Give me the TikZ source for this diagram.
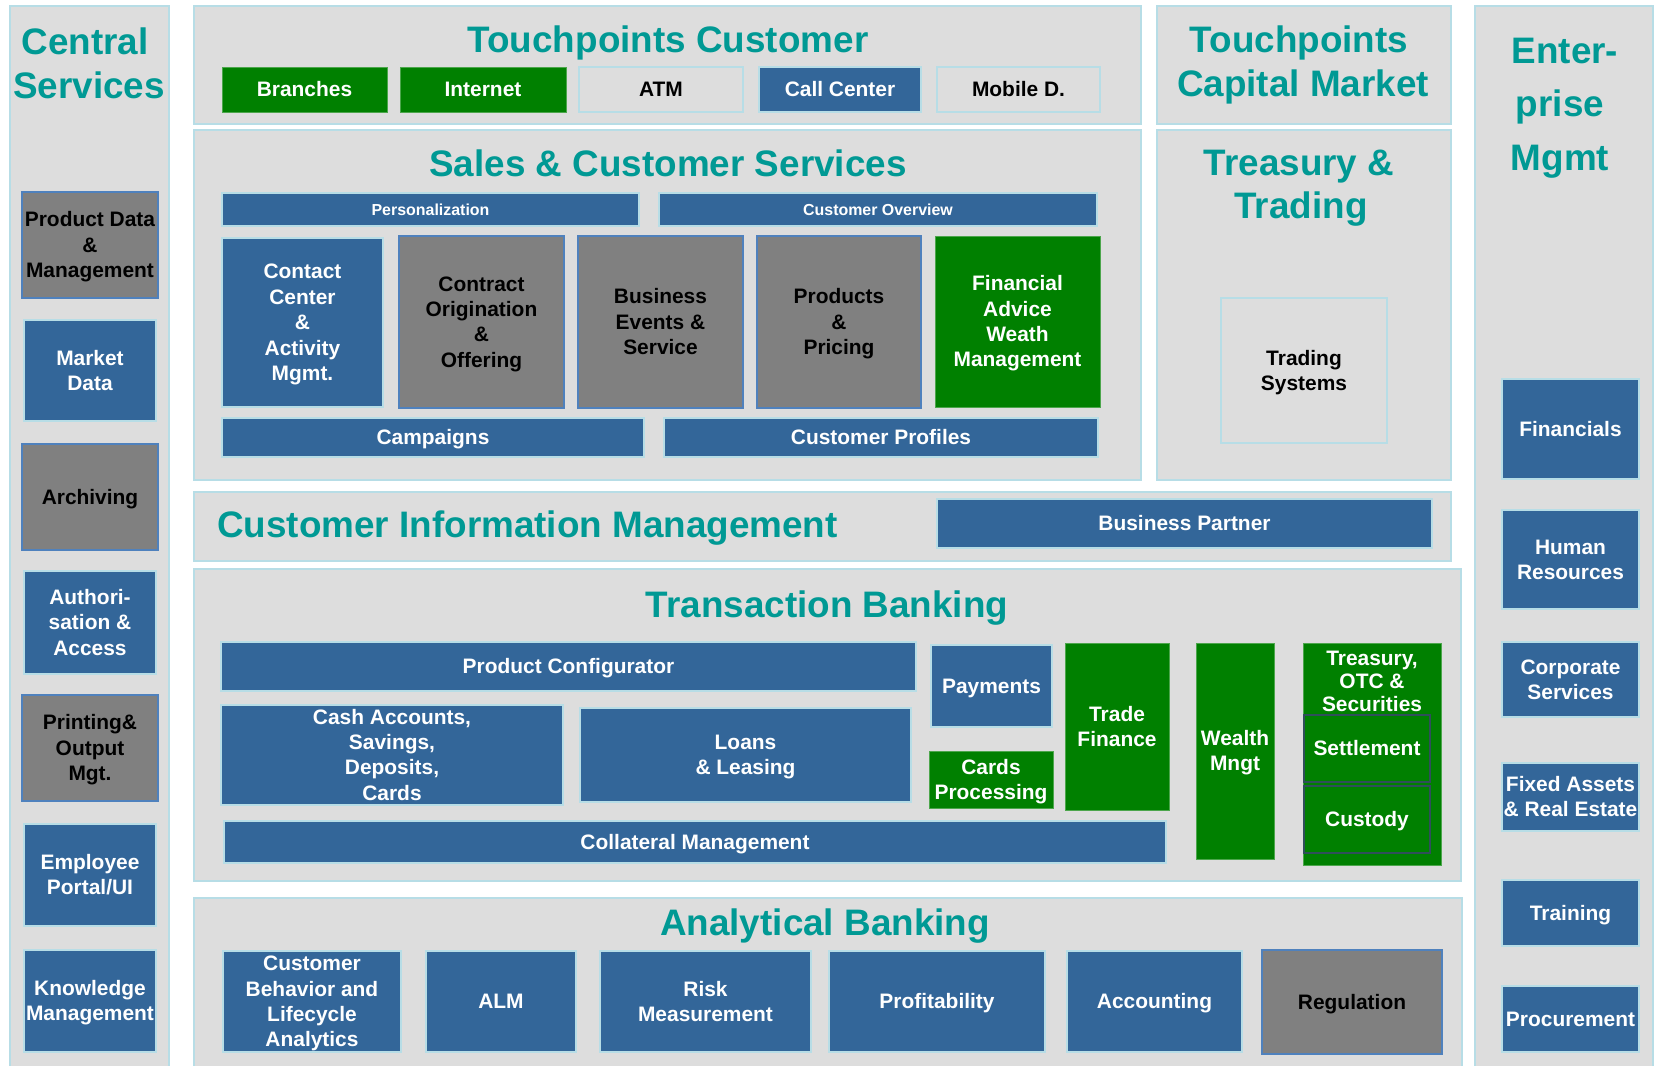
\documentclass[tikz,border=0pt]{standalone}
\usepackage{fontspec}
\setmainfont{Liberation Sans}
\definecolor{panelfill}{RGB}{221,221,221}
\definecolor{panelline}{RGB}{183,221,230}
\definecolor{sapblue}{RGB}{51,102,153}
\definecolor{sapgreen}{RGB}{0,128,0}
\definecolor{boxgray}{RGB}{128,128,128}
\definecolor{grayline}{RGB}{79,129,189}
\definecolor{titleteal}{RGB}{0,153,148}
\definecolor{darkline}{RGB}{47,79,90}
\newcommand\boxstrut{\vrule width0pt height0.905em depth0.212em\relax}
\newcommand\mlt[1]{\boxstrut#1\boxstrut}
\begin{document}
\begin{tikzpicture}[x=1bp,y=-1bp,
  corners/.style n args={4}{at={({(#1+#3)/2},{(#2+#4)/2})},minimum width={(#3-#1)*1bp},minimum height={(#4-#2)*1bp}},
  panel/.style={draw=panelline,line width=2bp,fill=panelfill,inner sep=0pt},
  boxtext/.style={align=center,inner sep=0pt,font=\bfseries\fontsize{21}{25.5}\selectfont},
  bbox/.style={boxtext,draw=panelline,line width=2bp,fill=sapblue,text=white},
  gbox/.style={boxtext,draw=grayline,line width=1.5bp,fill=boxgray,text=black},
  grbox/.style={boxtext,draw=sapgreen!70!white,line width=1bp,fill=sapgreen,text=white},
  obox/.style={boxtext,draw=panelline,line width=2bp,fill=panelfill,text=black},
  inbox/.style={boxtext,draw=darkline,line width=2bp,fill=sapgreen,text=white},
  smallbar/.style={bbox,font=\bfseries\fontsize{16}{19}\selectfont},
  title/.style={text=titleteal,anchor=base,inner sep=0pt,font=\bfseries\fontsize{37}{44}\selectfont}
]
\path[use as bounding box] (0,0) rectangle (1659,1065);
\fill[white] (0,0) rectangle (1659,1065);
\clip (0,0) rectangle (1659,1065);

% ---------- panels ----------
\node[panel,corners={10}{6}{169}{1085}] (pCentral) {};
\node[panel,corners={194}{6}{1141}{124}] (pTPC) {};
\node[panel,corners={194}{130}{1141}{480}] (pSales) {};
\node[panel,corners={1157}{6}{1451}{124}] (pTCM) {};
\node[panel,corners={1157}{130}{1451}{480}] (pTT) {};
\node[panel,corners={1475}{6}{1653}{1085}] (pEnt) {};
\node[panel,corners={194}{492}{1451}{561}] (pCIM) {};
\node[panel,corners={194}{569}{1461}{881}] (pTB) {};
\node[panel,corners={194}{898}{1462}{1085}] (pAB) {};

% ---------- titles ----------
\node[title] (tCen1) at (85,54) {Central};
\node[title] (tCen2) at (89,98) {Services};
\node[title] (tTPC) at (668,52) {Touchpoints Customer};
\node[title] (tTCM1) at (1299,52) {Touchpoints};
\node[title] (tTCM2) at (1303,96) {Capital Market};
\node[title] (tSales) at (668,176) {Sales \& Customer Services};
\node[title] (tTT1) at (1299,175) {Treasury \&};
\node[title] (tTT2) at (1301,218) {Trading};
\node[title] (tEnt1) at (1565,63) {Enter-};
\node[title] (tEnt2) at (1560,116) {prise};
\node[title] (tEnt3) at (1560,170) {Mgmt};
\node[title,anchor=base west] (tCIM) at (217,537) {Customer Information Management};
\node[title] (tTB) at (827,617) {Transaction Banking};
\node[title] (tAB) at (825,935) {Analytical Banking};

% ---------- touchpoints customer ----------
\node[grbox,corners={222}{67}{387}{112}] (branches) {\mlt{Branches}};
\node[grbox,corners={400}{67}{566}{112}] (internet) {\mlt{Internet}};
\node[obox,corners={579}{67}{743}{112}] (atm) {\mlt{ATM}};
\node[bbox,corners={759}{67}{921}{112}] (callcenter) {\mlt{Call Center}};
\node[obox,corners={937}{67}{1100}{112}] (mobile) {\mlt{Mobile D.}};

% ---------- sales & customer services ----------
\node[smallbar,corners={222}{193}{639}{226}] (personal) {\mlt{Personalization}};
\node[smallbar,corners={659}{193}{1097}{226}] (custover) {\mlt{Customer Overview}};
\node[bbox,corners={222}{238}{383}{407}] (contact) {\mlt{Contact\\Center\\\&\\Activity\\Mgmt.}};
\node[gbox,corners={399}{236}{564}{408}] (contract) {\mlt{Contract\\Origination\\\&\\Offering}};
\node[gbox,corners={578}{236}{743}{408}] (busevents) {\mlt{Business\\Events \&\\Service}};
\node[gbox,corners={757}{236}{921}{408}] (products) {\mlt{Products\\\&\\Pricing}};
\node[grbox,corners={935}{236}{1100}{407}] (finadvice) {\mlt{Financial\\Advice\\Weath\\Management}};
\node[bbox,corners={222}{418}{644}{457}] (campaigns) {\mlt{Campaigns}};
\node[bbox,corners={664}{418}{1098}{457}] (custprof) {\mlt{Customer Profiles}};

% ---------- treasury & trading ----------
\node[obox,corners={1221}{298}{1387}{443}] (tradsys) {\mlt{Trading\\Systems}};

% ---------- customer information management ----------
\node[bbox,corners={937}{499}{1432}{548}] (buspartner) {\mlt{Business Partner}};

% ---------- transaction banking ----------
\node[bbox,corners={221}{642}{916}{691}] (prodconf) {\mlt{Product Configurator}};
\node[bbox,corners={221}{708}{563}{802}] (cash) {\mlt{Cash Accounts,\\Savings,\\Deposits,\\Cards}};
\node[bbox,corners={580}{708}{911}{802}] (loans) {\mlt{Loans\\\& Leasing}};
\node[bbox,corners={224}{821}{1166}{863}] (collateral) {\mlt{Collateral Management}};
\node[bbox,corners={931}{645}{1052}{727}] (payments) {\mlt{Payments}};
\node[grbox,corners={929}{751}{1053}{808}] (cards) {\mlt{Cards\\Processing}};
\node[grbox,corners={1065}{643}{1169}{810}] (trade) {\mlt{Trade\\Finance}};
\node[grbox,corners={1196}{643}{1274}{859}] (wealth) {\mlt{Wealth\\Mngt}};
\node[grbox,corners={1303}{643}{1441}{865}] (treasuryotc) {};
\node[boxtext,text=white,anchor=north,font=\bfseries\fontsize{21}{23.5}\selectfont] (treasurytxt) at (1372,646) {\mlt{Treasury,\\OTC \&\\Securities}};
\node[inbox,corners={1304}{715}{1430}{782}] (settlement) {\mlt{Settlement}};
\node[inbox,corners={1304}{786}{1430}{853}] (custody) {\mlt{Custody}};

% ---------- analytical banking ----------
\node[bbox,corners={223}{951}{401}{1052}] (custbeh) {\mlt{Customer\\Behavior and\\Lifecycle\\Analytics}};
\node[bbox,corners={426}{951}{576}{1052}] (alm) {\mlt{ALM}};
\node[bbox,corners={600}{951}{811}{1052}] (risk) {\mlt{Risk\\Measurement}};
\node[bbox,corners={829}{951}{1045}{1052}] (profit) {\mlt{Profitability}};
\node[bbox,corners={1067}{951}{1242}{1052}] (accounting) {\mlt{Accounting}};
\node[gbox,corners={1262}{950}{1442}{1054}] (regulation) {\mlt{Regulation}};

% ---------- central services ----------
\node[gbox,corners={22}{192}{158}{298}] (proddata) {\mlt{Product Data\\\&\\Management}};
\node[bbox,corners={24}{320}{156}{421}] (market) {\mlt{Market\\Data}};
\node[gbox,corners={22}{444}{158}{550}] (archiving) {\mlt{Archiving}};
\node[bbox,corners={24}{571}{156}{674}] (authori) {\mlt{Authori-\\sation \&\\Access}};
\node[gbox,corners={22}{695}{158}{801}] (printing) {\mlt{Printing\&\\Output\\Mgt.}};
\node[bbox,corners={24}{824}{156}{926}] (employee) {\mlt{Employee\\Portal/UI}};
\node[bbox,corners={24}{950}{156}{1052}] (knowledge) {\mlt{Knowledge\\Management}};

% ---------- enterprise mgmt ----------
\node[bbox,corners={1502}{379}{1639}{479}] (financials) {\mlt{Financials}};
\node[bbox,corners={1502}{510}{1639}{609}] (hr) {\mlt{Human\\Resources}};
\node[bbox,corners={1502}{642}{1639}{717}] (corporate) {\mlt{Corporate\\Services}};
\node[bbox,corners={1502}{763}{1639}{831}] (fixed) {\mlt{Fixed Assets\\\& Real Estate}};
\node[bbox,corners={1502}{880}{1639}{946}] (training) {\mlt{Training}};
\node[bbox,corners={1502}{986}{1639}{1052}] (procure) {\mlt{Procurement}};
\end{tikzpicture}
\end{document}
